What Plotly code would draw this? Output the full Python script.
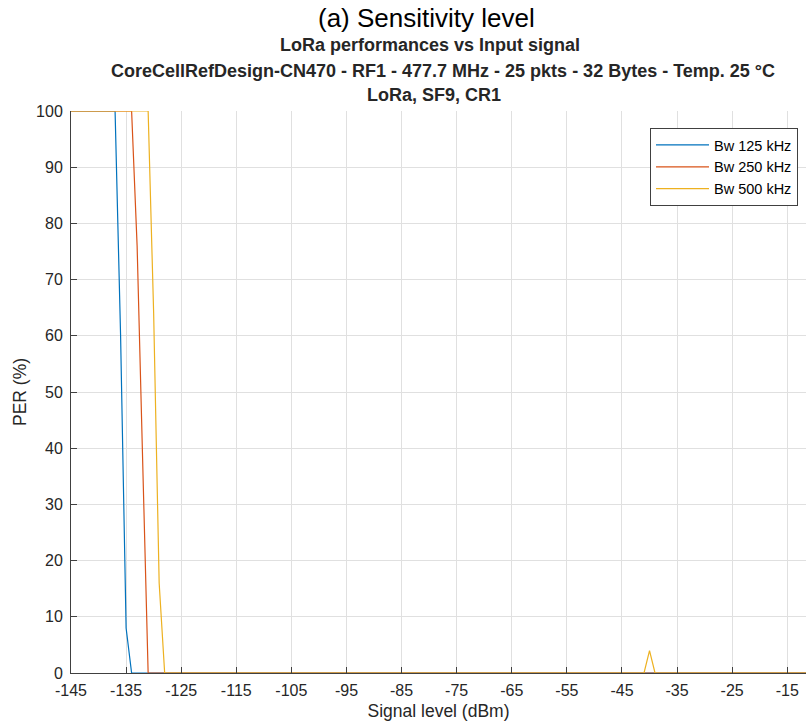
import plotly.graph_objects as go

# ---- data ----
bw125_x = [-145, -137, -136, -135, -134, -10]
bw125_per = [100, 100, 60, 8, 0, 0]

bw250_x = [-145, -134, -133, -132, -131, -10]
bw250_per = [100, 100, 76, 40, 0, 0]

bw500_x = [-145, -131, -130, -129, -128, -41, -40, -39, -10]
bw500_per = [100, 100, 64, 16, 0, 0, 4, 0, 0]

series_names = ["Bw 125 kHz", "Bw 250 kHz", "Bw 500 kHz"]
x_ticks = list(range(-145, -14, 10))
x_tick_labels = [str(v) for v in x_ticks]
y_ticks = list(range(0, 101, 10))
y_tick_labels = [str(v) for v in y_ticks]

colors = ["#0072BD", "#D95319", "#EDB120"]
FONT = "Liberation Sans, Arial, sans-serif"
TXT = "#262626"

W, H = 806, 726
L, R, T, B = 71, 0, 111, 53
pw, ph = W - L - R, H - T - B


def px_x(px):
    return (px - L) / pw


def px_y(py):
    return (H - B - py) / ph


fig = go.Figure()
for xs, ys, name, c in zip([bw125_x, bw250_x, bw500_x],
                           [bw125_per, bw250_per, bw500_per],
                           series_names, colors):
    fig.add_trace(go.Scatter(x=xs, y=ys, mode="lines", name=name,
                             line=dict(color=c, width=1.2)))

axis_common = dict(
    showgrid=True, gridcolor="#e0e0e0", gridwidth=1,
    showline=True, linecolor="#404040", linewidth=1,
    ticks="inside", ticklen=6, tickcolor="#404040", tickwidth=1,
    zeroline=False, mirror=False,
    tickfont=dict(family=FONT, size=16, color=TXT),
)

fig.update_xaxes(range=[-145, -11.6], tickvals=x_ticks, ticktext=x_tick_labels,
                 ticklabelstandoff=3,
                 title=dict(text="Signal level (dBm)", standoff=6,
                            font=dict(family=FONT, size=17.5, color=TXT)),
                 **axis_common)
fig.update_yaxes(range=[0, 100], tickvals=y_ticks, ticktext=y_tick_labels,
                 ticklabelstandoff=4,
                 title=dict(text="PER (%)", standoff=4,
                            font=dict(family=FONT, size=17.5, color=TXT)),
                 **axis_common)

titles = [
    ("(a) Sensitivity level", 426, 18, 26, False),
    ("LoRa performances vs Input signal", 430, 45, 18, True),
    ("CoreCellRefDesign-CN470 - RF1 - 477.7 MHz - 25 pkts - 32 Bytes - Temp. 25 °C", 443, 71, 18, True),
    ("LoRa, SF9, CR1", 434, 95, 18, True),
]
for text, cx, cy, size, bold in titles:
    fig.add_annotation(
        text=f"<b>{text}</b>" if bold else text,
        x=px_x(cx), y=px_y(cy), xref="paper", yref="paper",
        xanchor="center", yanchor="middle", showarrow=False,
        font=dict(family=FONT, size=size, color="#000000" if not bold else TXT),
    )

fig.update_layout(
    width=W, height=H,
    margin=dict(l=L, r=R, t=T, b=B),
    paper_bgcolor="white", plot_bgcolor="white",
    font=dict(family=FONT, color=TXT),
    showlegend=True,
    legend=dict(x=px_x(798), y=px_y(128), xanchor="right", yanchor="top",
                bgcolor="white", bordercolor="#404040", borderwidth=1,
                font=dict(family=FONT, size=14.5, color="#000000"),
                tracegroupgap=0, itemwidth=53),
)

fig.write_html("out.html")
